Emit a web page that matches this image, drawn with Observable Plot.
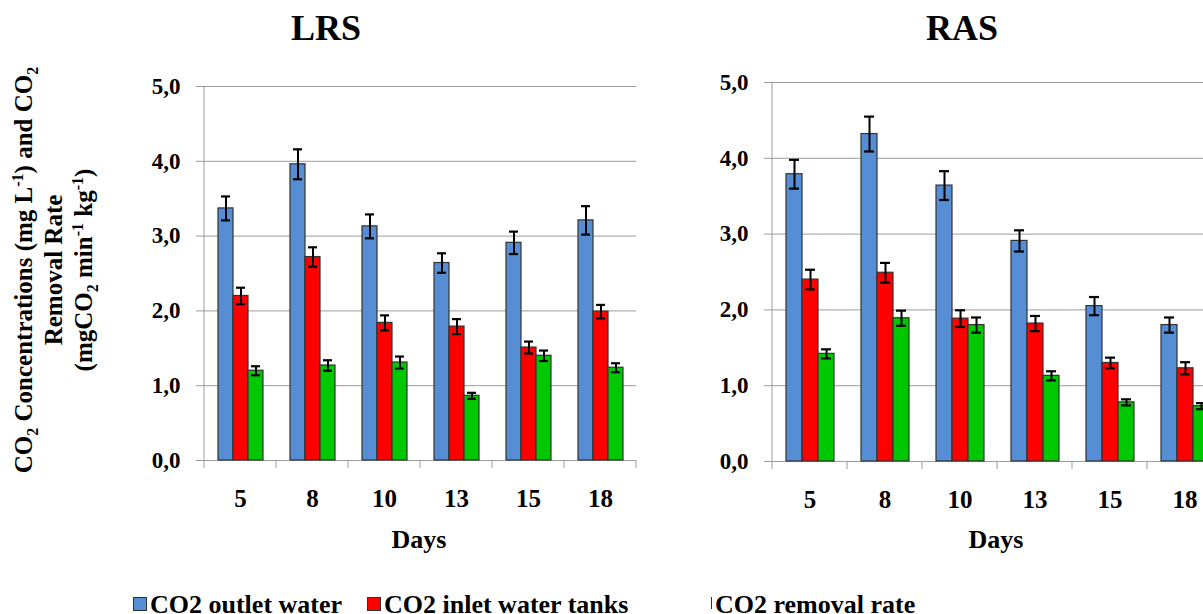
<!DOCTYPE html>
<html>
<head>
<meta charset="utf-8">
<script src="https://cdn.jsdelivr.net/npm/d3@7"></script>
<script src="https://cdn.jsdelivr.net/npm/@observablehq/plot@0.6"></script>
<style>
  html, body { margin: 0; padding: 0; background: #fff; }
  #chart {
    position: relative; width: 1203px; height: 614px; overflow: hidden;
    font-family: "Liberation Serif", "Times New Roman", serif; font-weight: bold; color: #000;
  }
  #chart svg { position: absolute; top: 0; }
  .title { position: absolute; font-size: 36px; line-height: 36px; transform: translateX(-50%); white-space: nowrap; }
  .xlabel { position: absolute; font-size: 26px; line-height: 26px; transform: translateX(-50%); white-space: nowrap; }
  .ytitle {
    position: absolute; left: 54px; top: 270px; font-size: 25px; line-height: 30px;
    text-align: center; white-space: nowrap; transform: translate(-50%, -50%) rotate(-90deg);
  }
  .ytitle sub, .ytitle sup { font-size: 16px; line-height: 0; }
  .legend-item { position: absolute; top: 592px; font-size: 26px; line-height: 26px; white-space: nowrap; }
  .swatch { position: absolute; top: 5px; height: 12px; border: 1px solid #333; box-sizing: content-box; }
</style>
</head>
<body>
<div id="chart"></div>
<script>
// Sampling days (x categories)
const days = ["5", "8", "10", "13", "15", "18"];

// Series names and colours
const seriesNames = ["CO2 outlet water", "CO2 inlet water tanks", "CO2 removal rate"];
const seriesColors = ["#558ED5", "#FF0000", "#00C800"];

// y axis ticks
const yTicks = [0, 1, 2, 3, 4, 5];

// LRS means and error bars
const lrsOutlet = [3.37, 3.96, 3.13, 2.64, 2.91, 3.21];
const lrsOutletErr = [0.16, 0.20, 0.16, 0.13, 0.15, 0.19];
const lrsInlet = [2.20, 2.72, 1.84, 1.79, 1.51, 1.99];
const lrsInletErr = [0.11, 0.13, 0.10, 0.10, 0.08, 0.09];
const lrsRemoval = [1.20, 1.27, 1.31, 0.865, 1.40, 1.24];
const lrsRemovalErr = [0.06, 0.07, 0.08, 0.04, 0.07, 0.06];

// RAS means and error bars
const rasOutlet = [3.79, 4.32, 3.64, 2.91, 2.05, 1.80];
const rasOutletErr = [0.19, 0.23, 0.19, 0.14, 0.12, 0.10];
const rasInlet = [2.40, 2.49, 1.885, 1.82, 1.30, 1.23];
const rasInletErr = [0.13, 0.13, 0.11, 0.10, 0.07, 0.08];
const rasRemoval = [1.42, 1.89, 1.80, 1.13, 0.78, 0.73];
const rasRemovalErr = [0.06, 0.10, 0.10, 0.06, 0.04, 0.04];

const gridColor = "#9c9c9c";
const fmt = d => d.toFixed(1).replace(".", ",");

function rowsFor(values, errors) {
  const rows = [];
  days.forEach((day, i) => {
    seriesNames.forEach((s, k) => {
      rows.push({day, series: s, value: values[k][i], err: errors[k][i]});
    });
  });
  return rows;
}

function panel(rows, {left, width, marginLeft, marginRight, marginTop, height, marginBottom}) {
  const lo = d => d.value - d.err;
  const hi = d => d.value + d.err;
  const plot = Plot.plot({
    width, height, marginLeft, marginRight, marginTop, marginBottom,
    style: {fontFamily: "Liberation Serif, Times New Roman, serif", fontWeight: "bold", background: "none", overflow: "visible", color: "#000"},
    fx: {domain: days, padding: 0, label: null},
    x: {domain: seriesNames, paddingInner: 0, paddingOuter: 0.76, axis: null},
    y: {domain: [0, 5], axis: null},
    color: {domain: seriesNames, range: seriesColors},
    marks: [
      Plot.gridY(yTicks, {stroke: gridColor, strokeOpacity: 1, strokeWidth: 1}),
      Plot.axisY(yTicks, {tickSize: 8, tickPadding: 16, tickFormat: fmt, fontSize: 23, stroke: gridColor, fill: "#000", label: null}),
      Plot.axisFx({anchor: "bottom", tickSize: 0, tickPadding: 29, fontSize: 25, fill: "#000", label: null}),
      Plot.barY(rows, {fx: "day", x: "series", y: "value", fill: "series", stroke: "#333", strokeWidth: 1.2}),
      Plot.ruleX(rows, {fx: "day", x: "series", y1: lo, y2: hi, stroke: "#000", strokeWidth: 2}),
      Plot.tickY(rows, {fx: "day", x: "series", y: lo, stroke: "#000", strokeWidth: 2.2, insetLeft: 3, insetRight: 3}),
      Plot.tickY(rows, {fx: "day", x: "series", y: hi, stroke: "#000", strokeWidth: 2.2, insetLeft: 3, insetRight: 3})
    ]
  });
  plot.style.left = left + "px";

  // value axis line and category boundary ticks, placed from the plot's scales
  const fx = plot.scale("fx");
  const y = plot.scale("y");
  const y0 = y.apply(0), y5 = y.apply(5);
  const x0 = fx.apply(days[0]);
  const bounds = days.map(d => fx.apply(d)).concat([fx.apply(days[days.length - 1]) + fx.bandwidth]);
  const g = d3.select(plot).append("g").attr("stroke", gridColor).attr("stroke-width", 1);
  g.append("line").attr("x1", x0).attr("x2", x0).attr("y1", y5).attr("y2", y0);
  g.selectAll(".bt").data(bounds).join("line")
    .attr("x1", d => d).attr("x2", d => d).attr("y1", y0).attr("y2", y0 + 8);
  return plot;
}

const chart = document.getElementById("chart");

const lrs = panel(
  rowsFor([lrsOutlet, lrsInlet, lrsRemoval], [lrsOutletErr, lrsInletErr, lrsRemovalErr]),
  {left: 0, width: 640, marginLeft: 201, marginRight: 2, marginTop: 86, height: 520, marginBottom: 60}
);
const ras = panel(
  rowsFor([rasOutlet, rasInlet, rasRemoval], [rasOutletErr, rasInletErr, rasRemovalErr]),
  {left: 590, width: 640, marginLeft: 179, marginRight: 6, marginTop: 82, height: 520, marginBottom: 59}
);
chart.appendChild(lrs);
chart.appendChild(ras);

// Panel titles and axis labels
function addDiv(cls, html, left, top) {
  const el = document.createElement("div");
  el.className = cls;
  el.innerHTML = html;
  if (left != null) el.style.left = left + "px";
  if (top != null) el.style.top = top + "px";
  chart.appendChild(el);
  return el;
}
addDiv("title", "LRS", 326, 10);
addDiv("title", "RAS", 962, 10);
addDiv("xlabel", "Days", 419, 527);
addDiv("xlabel", "Days", 996, 527);
addDiv("ytitle",
  "CO<sub>2</sub> Concentrations (mg L<sup>-1</sup>) and CO<sub>2</sub><br>" +
  "Removal Rate<br>" +
  "(mgCO<sub>2</sub> min<sup>-1</sup> kg<sup>-1</sup>)");

// Legend
const legendLeft = [133, 367, 711];
const swatchWidth = [12, 12, 0];
seriesNames.forEach((name, k) => {
  const item = addDiv("legend-item", "", legendLeft[k], null);
  const sw = document.createElement("span");
  sw.className = "swatch";
  sw.style.left = "0px";
  sw.style.width = swatchWidth[k] + "px";
  sw.style.background = seriesColors[k];
  if (swatchWidth[k] === 0) { sw.style.borderRight = "none"; sw.style.borderTop = "none"; sw.style.borderBottom = "none"; }
  item.appendChild(sw);
  const t = document.createElement("span");
  t.textContent = name;
  t.style.marginLeft = (swatchWidth[k] === 0 ? 4 : 17) + "px";
  item.appendChild(t);
});
</script>
</body>
</html>
